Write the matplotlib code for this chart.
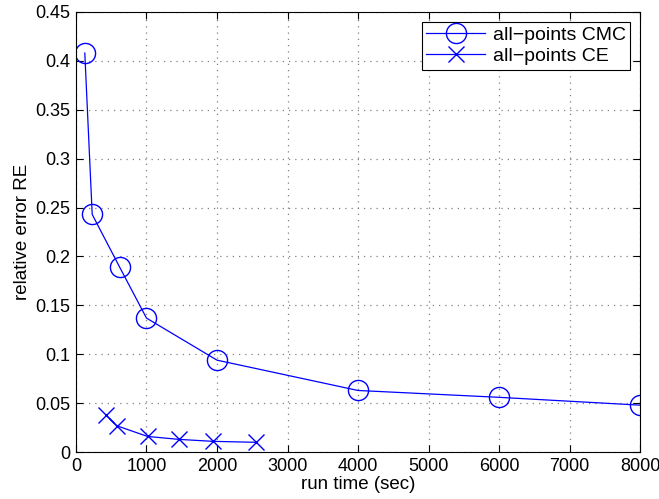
import matplotlib
matplotlib.use("Agg")
import matplotlib.pyplot as plt

plt.rcParams['font.family'] = ['Liberation Sans', 'DejaVu Sans']

# run time (sec) vs relative error for the two estimators
cmc_time = [125, 230, 620, 1000, 2000, 4000, 6000, 8000]
cmc_re = [0.408, 0.243, 0.189, 0.137, 0.094, 0.063, 0.056, 0.048]
ce_time = [425, 575, 1015, 1460, 1940, 2550]
ce_re = [0.038, 0.027, 0.016, 0.013, 0.011, 0.010]

fig = plt.figure(figsize=(6.59, 4.99), dpi=100)
ax = fig.add_axes([0.1153, 0.094, 0.856, 0.882])

ax.plot(cmc_time, cmc_re, color='#0000ff', marker='o', markersize=14.5,
        markerfacecolor='none', markeredgewidth=1.0, linewidth=0.9,
        label='all\u2212points CMC')
ax.plot(ce_time, ce_re, color='#0000ff', marker='x', markersize=12,
        markeredgewidth=1.0, linewidth=0.9, label='all\u2212points CE')

ax.set_xlim(0, 8000)
ax.set_ylim(0, 0.45)
ax.set_xticks(range(0, 8001, 1000))
ax.set_yticks([i * 0.05 for i in range(10)])
ax.set_yticklabels(['0', '0.05', '0.1', '0.15', '0.2', '0.25', '0.3', '0.35', '0.4', '0.45'])
ax.grid(True, linestyle=(0, (1, 4)), color='#808080', linewidth=0.9)
ax.tick_params(direction='in', top=True, right=True, labelsize=13, length=5, pad=4)
ax.set_xlabel('run time (sec)', fontsize=13.5, labelpad=1)
ax.set_ylabel('relative error RE', fontsize=13.5, labelpad=3)

leg = ax.legend(loc='upper right', fontsize=14, fancybox=False, framealpha=1,
                edgecolor='black', borderaxespad=0.5, handlelength=3.0,
                labelspacing=0.15, borderpad=0.25, handletextpad=0.4)
leg.get_frame().set_linewidth(0.8)

fig.savefig('out.png', dpi=100)
